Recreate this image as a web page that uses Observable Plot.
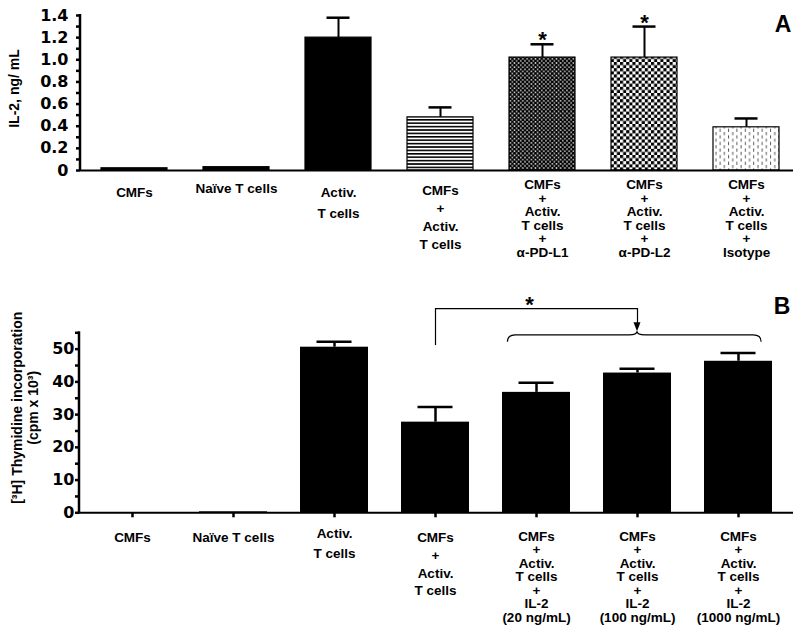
<!DOCTYPE html>
<html>
<head>
<meta charset="utf-8">
<script src="https://cdn.jsdelivr.net/npm/d3@7"></script>
<script src="https://cdn.jsdelivr.net/npm/@observablehq/plot@0.6"></script>
<style>
html, body { margin: 0; padding: 0; background: #fff; }
#wrap { width: 800px; }
#wrap svg { display: block; }
</style>
</head>
<body>
<svg width="0" height="0" style="position:absolute">
  <defs>
    <pattern id="pStripe" patternUnits="userSpaceOnUse" width="6" height="3.4">
      <rect width="6" height="3.4" fill="#fff"/>
      <rect width="6" height="1.6" fill="#000"/>
    </pattern>
    <pattern id="pDots" patternUnits="userSpaceOnUse" width="4.2" height="4.2">
      <rect width="4.2" height="4.2" fill="#fff"/>
      <circle cx="0" cy="0" r="1.55" fill="#000"/>
      <circle cx="4.2" cy="0" r="1.55" fill="#000"/>
      <circle cx="0" cy="4.2" r="1.55" fill="#000"/>
      <circle cx="4.2" cy="4.2" r="1.55" fill="#000"/>
      <circle cx="2.1" cy="2.1" r="1.55" fill="#000"/>
    </pattern>
    <pattern id="pChecker" patternUnits="userSpaceOnUse" width="6.2" height="6.2">
      <rect width="6.2" height="6.2" fill="#fff"/>
      <rect width="3.1" height="3.1" fill="#000"/>
      <rect x="3.1" y="3.1" width="3.1" height="3.1" fill="#000"/>
    </pattern>
    <pattern id="pDash" patternUnits="userSpaceOnUse" width="8.4" height="6.6">
      <rect width="8.4" height="6.6" fill="#fff"/>
      <rect x="1.5" y="0" width="0.9" height="3.2" fill="#444"/>
      <rect x="5.7" y="3.3" width="0.9" height="3.2" fill="#444"/>
    </pattern>
  </defs>
</svg>
<div id="wrap"></div>
<script>
// ---------------- Panel A data ----------------
const categoriesA = [
  "CMFs",
  "Naïve T cells",
  "Activ.\nT cells",
  "CMFs\n+\nActiv.\nT cells",
  "CMFs\n+\nActiv.\nT cells\n+\nα-PD-L1",
  "CMFs\n+\nActiv.\nT cells\n+\nα-PD-L2",
  "CMFs\n+\nActiv.\nT cells\n+\nIsotype"
];
const il2Mean = [0.02, 0.03, 1.20, 0.48, 1.02, 1.02, 0.39];
const il2Error = [0, 0, 0.18, 0.09, 0.12, 0.28, 0.08];
const il2Significant = [false, false, false, false, true, true, false];
const yTicksA = [0, 0.2, 0.4, 0.6, 0.8, 1.0, 1.2, 1.4];
const yMinorTicksA = [0.1, 0.3, 0.5, 0.7, 0.9, 1.1, 1.3];

// ---------------- Panel B data ----------------
const categoriesB = [
  "CMFs",
  "Naïve T cells",
  "Activ.\nT cells",
  "CMFs\n+\nActiv.\nT cells",
  "CMFs\n+\nActiv.\nT cells\n+\nIL-2\n(20 ng/mL)",
  "CMFs\n+\nActiv.\nT cells\n+\nIL-2\n(100 ng/mL)",
  "CMFs\n+\nActiv.\nT cells\n+\nIL-2\n(1000 ng/mL)"
];
const thymidineMean = [0, 0.3, 50.6, 27.7, 36.8, 42.7, 46.3];
const thymidineError = [0, 0, 1.7, 4.6, 2.9, 1.3, 2.5];
const yTicksB = [0, 10, 20, 30, 40, 50];
const yMinorTicksB = [5, 15, 25, 35, 45, 55];
// significance bracket (data units)
const bracketLevel = 62.4, bracketStart = 51.1;
const braceLevel = 54.2, braceEnd = 52.1, bracePeak = 55.3;

// ---------------- styles ----------------
const fillsA = ["#000", "#000", "#000", "url(#pStripe)", "url(#pDots)", "url(#pChecker)", "url(#pDash)"];
const LABEL_SIZE = 13.5;
const labelLayoutA = [
  {idx: [0], pad: 16.8, lh: 1},
  {idx: [1], pad: 13, lh: 1},
  {idx: [2], pad: 11.4, lh: 1.556},
  {idx: [3], pad: 11.9, lh: 1.333},
  {idx: [4, 5, 6], pad: 9.1, lh: 1}
];
const labelLayoutB = [
  {idx: [0], pad: 15, lh: 1},
  {idx: [1], pad: 14.4, lh: 1},
  {idx: [2], pad: 6.5, lh: 1.48},
  {idx: [3], pad: 12.2, lh: 1.3},
  {idx: [4, 5, 6], pad: 13.5, lh: 1}
];
const FONT = "'Liberation Sans', Arial, Helvetica, sans-serif";
const TICKFONT = "'DejaVu Sans', sans-serif";

const dataA = categoriesA.map((c, i) => ({cat: c, mean: il2Mean[i], err: il2Error[i], hi: il2Mean[i] + il2Error[i], sig: il2Significant[i], fill: fillsA[i]}));
const dataB = categoriesB.map((c, i) => ({cat: c, mean: thymidineMean[i], err: thymidineError[i], hi: thymidineMean[i] + thymidineError[i]}));

function bw(x) { return typeof x.bandwidth === "function" ? x.bandwidth() : (x.bandwidth || 0); }

function leftAxisLine(top) {
  return (index, scales, values, dims) => {
    const l = d3.create("svg:line")
      .attr("x1", dims.marginLeft).attr("x2", dims.marginLeft)
      .attr("y1", scales.y(top) - 1).attr("y2", scales.y(0) + 1)
      .attr("stroke", "#000").attr("stroke-width", 2.5);
    return l.node();
  };
}

// ---------------- Panel A ----------------
const plotA = Plot.plot({
  width: 800, height: 285,
  marginLeft: 80, marginRight: 0, marginTop: 15, marginBottom: 115,
  style: {fontFamily: FONT, fontWeight: "bold", color: "#000", background: "#fff"},
  x: {domain: categoriesA, type: "band", paddingInner: 0.35, paddingOuter: 0.175, axis: null, label: null},
  y: {domain: [0, 1.4], axis: null, label: null},
  color: {type: "identity"},
  marks: [
    Plot.barY(dataA, {x: "cat", y: "mean", fill: "fill", stroke: "#000", strokeWidth: 1.2}),
    Plot.ruleX(dataA.filter(d => d.err > 0), {x: "cat", y1: "mean", y2: "hi", stroke: "#000", strokeWidth: 2}),
    Plot.tickY(dataA.filter(d => d.err > 0), {x: "cat", y: "hi", stroke: "#000", strokeWidth: 2.5, insetLeft: 21.5, insetRight: 21.5}),
    Plot.text(dataA.filter(d => d.sig), {x: "cat", y: "hi", text: () => "*", dy: -4, fontSize: 22, fontWeight: "bold"}),
    Plot.ruleY([0], {stroke: "#000", strokeWidth: 2, insetRight: 7}),
    leftAxisLine(1.4),
    Plot.axisY({ticks: yTicksA, tickSize: 4, tickPadding: 8, strokeWidth: 2.5,
      tickFormat: d => d === 0 ? "0" : d.toFixed(1),
      fontFamily: TICKFONT, fontSize: 16, fontWeight: "bold", label: null}),
    Plot.axisY({ticks: yMinorTicksA, tickSize: 4, strokeWidth: 2.5, tickFormat: () => "", label: null}),
    ...labelLayoutA.map(g => Plot.axisX({ticks: g.idx.map(i => categoriesA[i]), tickSize: 0, tickPadding: g.pad,
      lineHeight: g.lh, fontSize: LABEL_SIZE, fontWeight: "bold", label: null})),
    Plot.text(["IL-2, ng/ mL"], {frameAnchor: "left", rotate: -90, textAnchor: "middle", dx: -66, dy: -4.5, fontSize: 14, fontWeight: "bold"}),
    Plot.text(["A"], {frameAnchor: "top-right", dx: -17.5, dy: 16.7, lineAnchor: "bottom", textAnchor: "middle", fontSize: 23, fontWeight: "bold"})
  ]
});

// ---------------- Panel B ----------------
function braceMark(index, scales) {
  const {x, y} = scales;
  const w = bw(x);
  const xl = x(categoriesB[4]) + 0.08 * w;
  const xr = x(categoriesB[6]) + 0.84 * w;
  const xm = x(categoriesB[5]) + w / 2;
  const ym = y(braceLevel), ye = y(braceEnd), yp = y(bracePeak);
  const r = 8;
  const g = d3.create("svg:g");
  g.append("path")
    .attr("d", `M${xl},${ye} Q${xl},${ym} ${xl + r},${ym} L${xm - r},${ym} Q${xm},${ym} ${xm},${yp} Q${xm},${ym} ${xm + r},${ym} L${xr - r},${ym} Q${xr},${ym} ${xr},${ye}`)
    .attr("fill", "none").attr("stroke", "#000").attr("stroke-width", 1.2);
  g.append("path")
    .attr("d", `M${xm - 3.5},${yp - 9} L${xm + 3.5},${yp - 9} L${xm},${yp} Z`)
    .attr("fill", "#000");
  return g.node();
}

const bracketData = [{a: categoriesB[3], b: categoriesB[5], y: bracketLevel}];

const plotB = Plot.plot({
  width: 800, height: 351,
  marginLeft: 79, marginRight: 9, marginTop: 47.3, marginBottom: 123.7,
  style: {fontFamily: FONT, fontWeight: "bold", color: "#000", background: "#fff"},
  x: {domain: categoriesB, type: "band", paddingInner: 0.33, paddingOuter: 0.165, axis: null, label: null},
  y: {domain: [0, 55], axis: null, label: null},
  marks: [
    Plot.barY(dataB, {x: "cat", y: "mean", fill: "#000"}),
    Plot.ruleX(dataB.filter(d => d.err > 0), {x: "cat", y1: "mean", y2: "hi", stroke: "#000", strokeWidth: 2.5}),
    Plot.tickY(dataB.filter(d => d.err > 0), {x: "cat", y: "hi", stroke: "#000", strokeWidth: 2.5, insetLeft: 16.5, insetRight: 16.5}),
    Plot.ruleY([0], {stroke: "#000", strokeWidth: 2, insetRight: -2}),
    leftAxisLine(55),
    Plot.axisY({ticks: yTicksB, tickSize: 4, tickPadding: 1, strokeWidth: 2.5,
      fontFamily: TICKFONT, fontSize: 16, fontWeight: "bold", label: null}),
    Plot.axisY({ticks: yMinorTicksB, tickSize: 4, strokeWidth: 2.5, tickFormat: () => "", label: null}),
    ...labelLayoutB.map(g => Plot.axisX({ticks: g.idx.map(i => categoriesB[i]), tickSize: 5, tickPadding: g.pad, strokeWidth: 2.5,
      lineHeight: g.lh, fontSize: LABEL_SIZE, fontWeight: "bold", label: null})),
    // significance bracket
    Plot.ruleX(bracketData, {x: "a", y1: bracketStart, y2: "y", stroke: "#000", strokeWidth: 1.2}),
    Plot.link(bracketData, {x1: "a", x2: "b", y1: "y", y2: "y", stroke: "#000", strokeWidth: 1.2}),
    Plot.ruleX(bracketData, {x: "b", y1: "y", y2: bracePeak + 1, stroke: "#000", strokeWidth: 1.2}),
    braceMark,
    Plot.text([{c: categoriesB[4], y: bracketLevel}], {x: "c", y: "y", text: () => "*", dx: -7, dy: -3.5, fontSize: 22, fontWeight: "bold"}),
    Plot.text(["[³H] Thymidine incorporation\n(cpm x 10³)"], {frameAnchor: "left", rotate: -90, textAnchor: "middle", dx: -54.5, dy: -15, lineHeight: 1.15, fontSize: 14, fontWeight: "bold"}),
    Plot.text(["B"], {frameAnchor: "top-right", dx: -9.5, dy: -19, lineAnchor: "bottom", textAnchor: "middle", fontSize: 23, fontWeight: "bold"})
  ]
});

const wrap = document.getElementById("wrap");
wrap.appendChild(plotA);
wrap.appendChild(plotB);
</script>
</body>
</html>
